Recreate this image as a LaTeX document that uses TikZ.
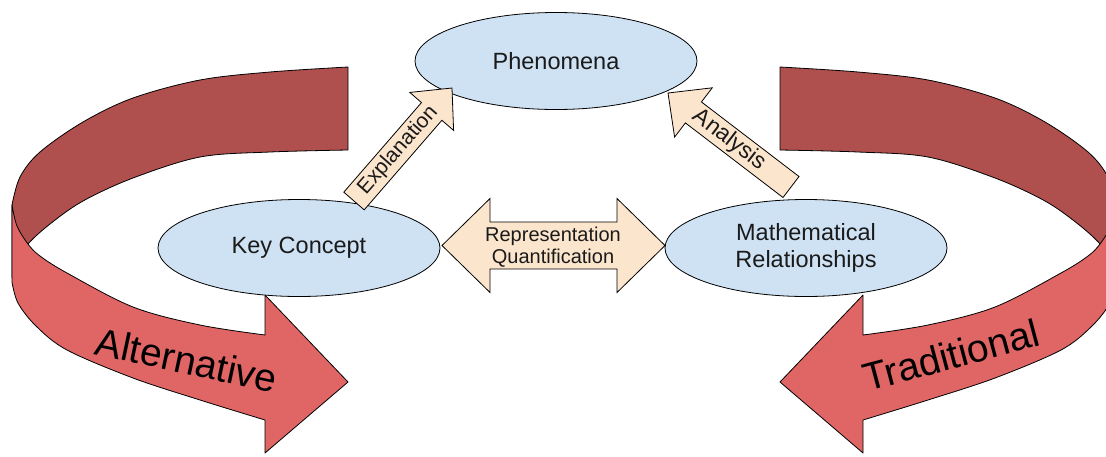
\documentclass[tikz,border=0pt]{standalone}
\usepackage{fontspec}
\setmainfont{Liberation Sans}
\usetikzlibrary{calc,shapes.geometric}
\definecolor{ribdark}{HTML}{B0504E}
\definecolor{riblight}{HTML}{E06666}
\definecolor{ellfill}{HTML}{CFE2F3}
\definecolor{arrfill}{HTML}{FCE5CD}
\definecolor{txt}{HTML}{1A1A1A}
\newcommand\myribbon{%
  \path[ribbondark] plot[smooth,tension=0.55] coordinates {(348,67) (270,72) (200,80) (133,98) (83,122) (40,152) (20,177) (12,205)}
   -- (12,278) -- plot[smooth,tension=0.55] coordinates {(12,278) (17,262) (28,244) (50,224) (83,201) (133,178) (200,157) (270,152) (348,150)} -- cycle;
  \path[ribbonlight] (12,205) -- (12,282) -- plot[smooth,tension=0.55] coordinates {(12,282) (18,303) (36,326) (67,350) (133,378) (200,400) (265,420)}
   -- (265,453) -- (348,382) -- (265,295) -- (265,335)
   -- plot[smooth,tension=0.55] coordinates {(265,335) (200,325) (133,307) (67,273) (40,256) (28,244) (17,226) (12,205)} -- cycle;
}
\newcommand\blockarrow[6]{%
  \coordinate (ba-h) at ($(#3)!#6!(#2)$);
  \path[#1] ($(#2)!#4!90:(#3)$) -- ($(ba-h)!#4!90:(#3)$) -- ($(ba-h)!#5!90:(#3)$) -- (#3)
    -- ($(ba-h)!#5!-90:(#3)$) -- ($(ba-h)!#4!-90:(#3)$) -- ($(#2)!#4!-90:(#3)$) -- cycle;}
\begin{document}
\begin{tikzpicture}[x=1pt,y=-1pt,
  ribbondark/.style={fill=ribdark,draw=black,line width=0.8pt,line join=round},
  ribbonlight/.style={fill=riblight,draw=black,line width=0.8pt,line join=round},
  ellnode/.style={ellipse,draw=black,line width=0.8pt,fill=ellfill,minimum width=282pt,minimum height=97pt,inner sep=0pt,align=center,text=txt,font=\fontsize{23.5}{27}\selectfont},
  arrowbox/.style={fill=arrfill,draw=black,line width=0.8pt,line join=miter},
  arrowtext/.style={text=txt,inner sep=0pt,align=center},
  bigtext/.style={text=black,inner sep=0pt,font=\fontsize{39}{44}\selectfont}]
\useasboundingbox (0,0) rectangle (1106,456);
\begin{scope}
  \clip (0,0) rectangle (1106,456);
  \myribbon
  \begin{scope}[xshift=1128pt,xscale=-1]
    \myribbon
  \end{scope}
\end{scope}
\node[ellnode] (phen) at (556,61) {Phenomena};
\node[ellnode] (key) at (299,248) {Key Concept};
\node[ellnode] (math) at (806,248) {Mathematical\\Relationships};
% Explanation arrow
\coordinate (expT) at (354,201);
\coordinate (expP) at (452,88);
\blockarrow{arrowbox}{expT}{expP}{13.5pt}{29pt}{31pt}
\node[arrowtext,font=\fontsize{21}{24}\selectfont,rotate=48.8] (explab) at ($(expT)!0.45!(expP)$) {Explanation};
% Analysis arrow
\coordinate (anaT) at (791,187);
\coordinate (anaP) at (668,93);
\blockarrow{arrowbox}{anaT}{anaP}{13.2pt}{31pt}{32pt}
\node[arrowtext,font=\fontsize{23}{26}\selectfont,rotate=-37.4] (analab) at ($(anaT)!0.5!(anaP)$) {Analysis};
% double arrow
\coordinate (dL) at (442,245.5);
\coordinate (dR) at (665,245.5);
\path[arrowbox] (dL) -- ($(dL)+(48,-47)$) -- ($(dL)+(48,-23.5)$) -- ($(dR)+(-48,-23.5)$) -- ($(dR)+(-48,-47)$) -- (dR)
  -- ($(dR)+(-48,47)$) -- ($(dR)+(-48,23.5)$) -- ($(dL)+(48,23.5)$) -- ($(dL)+(48,47)$) -- cycle;
\node[arrowtext,font=\fontsize{20}{22}\selectfont] (dlab) at (553,247) {Representation\\Quantification};
% big labels
\node[bigtext,rotate=-12] (alt) at (187,360) {Alternative};
\node[bigtext,rotate=15] (trad) at (951,355) {Traditional};
\end{tikzpicture}
\end{document}
